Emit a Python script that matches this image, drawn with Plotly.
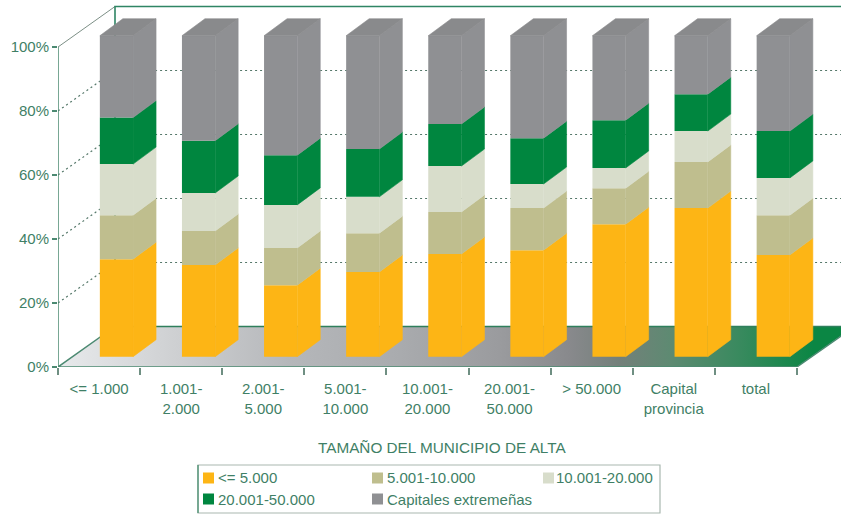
import plotly.graph_objects as go

categories = ["<= 1.000", "1.001-<br>2.000", "2.001-<br>5.000", "5.001-<br>10.000", "10.001-<br>20.000",
              "20.001-<br>50.000", "> 50.000", "Capital<br>provincia", "total"]
series_names = ["<= 5.000", "5.001-10.000", "10.001-20.000", "20.001-50.000", "Capitales extremeñas"]
s_le5000 = [30.4, 28.6, 22.3, 26.4, 32.0, 33.2, 41.3, 46.3, 31.7]
s_5_10 = [13.7, 10.6, 11.6, 12.1, 13.1, 13.1, 11.2, 14.4, 12.4]
s_10_20 = [15.9, 11.8, 13.4, 11.3, 14.3, 7.5, 6.3, 9.6, 11.6]
s_20_50 = [14.5, 16.3, 15.5, 14.9, 13.1, 14.3, 14.9, 11.5, 14.6]
s_cap = [25.5, 32.7, 37.2, 35.3, 27.5, 31.9, 26.3, 18.2, 29.7]
series = [s_le5000, s_5_10, s_10_20, s_20_50, s_cap]
colors = ["#FDB515", "#BFBE8E", "#D8DDCB", "#00863F", "#8F9093"]
top_color = "#898A8C"
ticks_y = [0, 20, 40, 60, 80, 100]

TXT = "#3F7F66"
FONT = "Liberation Sans, Arial, sans-serif"

# 3-D projection of the chart box, in axis units
W, H = 841, 515
ML, MB = 58, 148
PX_X, PX_Y = 82.1, 3.2
XR = [-0.5, -0.5 + (W - ML) / PX_X]
YR = [0, (H - MB) / PX_Y]
WALL_DX, WALL_DY = 57 / PX_X, 40.5 / PX_Y
BAR_DX, BAR_DY = 23 / PX_X, 17 / PX_Y
BAR_W, BAR_SHIFT, BAR_BASE = 33.2 / PX_X, 17.4 / PX_X, 10.3 / PX_Y
BAR_SCALE = 1.003

x0, x1 = -0.5, 8.5
fig = go.Figure()

# floor
fig.add_trace(go.Scatter(
    x=[x0, x1, x1 + WALL_DX, x0 + WALL_DX, x0], y=[0, 0, WALL_DY, WALL_DY, 0],
    mode="none", fill="toself", showlegend=False, hoverinfo="skip",
    fillgradient=dict(type="horizontal", start=x0, stop=x1 + 0.2,
                      colorscale=[[0, "#E8EAEC"], [0.15, "#CFD1D3"], [0.307, "#B5B7BA"], [0.453, "#A9ABAE"],
                                  [0.585, "#9A9B9E"], [0.678, "#88898C"], [0.744, "#73807A"], [0.81, "#5E8A72"],
                                  [0.9, "#3A8A5F"], [1, "#0B8644"]])))
# dotted grid: side wall and back wall
gx, gy = [], []
for v in ticks_y[1:-1]:
    gx += [x0, x0 + WALL_DX, XR[1], None]
    gy += [v, v + WALL_DY, v + WALL_DY, None]
fig.add_trace(go.Scatter(x=gx, y=gy, mode="lines", showlegend=False, hoverinfo="skip",
                         line=dict(color="#55786A", width=1.2, dash="2px,3px")))
# frame lines
fig.add_trace(go.Scatter(x=[x0, x0 + WALL_DX], y=[100, 100 + WALL_DY], mode="lines", showlegend=False,
                         hoverinfo="skip", line=dict(color="#7C8F86", width=1)))
fig.add_trace(go.Scatter(x=[x0 + WALL_DX, x0 + WALL_DX, XR[1]], y=[WALL_DY, 100 + WALL_DY, 100 + WALL_DY],
                         mode="lines", showlegend=False, hoverinfo="skip",
                         line=dict(color="#2F8564", width=1.6)))
fig.add_trace(go.Scatter(x=[x0 + WALL_DX, x0, x0, x0, x1, x1 + WALL_DX + 0.01],
                         y=[WALL_DY, 0, 100, 0, 0, WALL_DY], mode="lines", showlegend=False, hoverinfo="skip",
                         line=dict(color="#4C8A72", width=1.5)))
fig.add_trace(go.Scatter(x=[x0 + WALL_DX, XR[1]], y=[WALL_DY, WALL_DY], mode="lines", showlegend=False,
                         hoverinfo="skip", line=dict(color="#2F7F5C", width=1.3)))

# bars on an overlaid subplot so they cover the floor and grid
idx = list(range(len(categories)))
cum = [BAR_BASE] * len(idx)
for name, vals, col in zip(series_names, series, colors):
    scaled = [v * BAR_SCALE for v in vals]
    fig.add_trace(go.Bar(x=idx, y=scaled, base=cum, name=name, marker=dict(color=col, line=dict(width=0)),
                         width=BAR_W, offset=BAR_SHIFT - BAR_W / 2, xaxis="x2", yaxis="y2", showlegend=False))
    sx, sy = [], []
    for i, v, b in zip(idx, scaled, cum):
        r = i + BAR_SHIFT + BAR_W / 2
        sx += [r, r + BAR_DX, r + BAR_DX, r, r, None]
        sy += [b, b + BAR_DY, b + v + BAR_DY, b + v, b, None]
    fig.add_trace(go.Scatter(x=sx, y=sy, mode="lines", fill="toself", fillcolor=col, showlegend=False,
                             hoverinfo="skip", line=dict(width=0.6, color=col), xaxis="x2", yaxis="y2"))
    cum = [b + v for b, v in zip(cum, scaled)]
tx, ty = [], []
for i, t in zip(idx, cum):
    l = i + BAR_SHIFT - BAR_W / 2
    r = l + BAR_W
    tx += [l, l + BAR_DX, r + BAR_DX, r, l, None]
    ty += [t, t + BAR_DY, t + BAR_DY, t, t, None]
fig.add_trace(go.Scatter(x=tx, y=ty, mode="lines", fill="toself", fillcolor=top_color, showlegend=False,
                         hoverinfo="skip", line=dict(width=0.6, color=top_color), xaxis="x2", yaxis="y2"))

# legend laid out as in the reference: page pixels converted to paper fractions
def paper_x(v):
    return (v - ML) / (W - ML)
def paper_y(v):
    return (H - MB - v) / (H - MB)

legend_slots = [(203, 217, 478), (372, 386, 478), (543, 555, 478), (203, 217, 499), (372, 386, 499)]
shapes = [dict(type="rect", xref="paper", yref="paper", x0=paper_x(198), x1=paper_x(660),
               y0=paper_y(465), y1=paper_y(513), line=dict(color="#A9B8B0", width=1.2),
               fillcolor="white", layer="above"),
          dict(type="line", xref="paper", yref="paper", x0=paper_x(198), x1=paper_x(198),
               y0=paper_y(465), y1=paper_y(513), line=dict(color="#3F8A6A", width=1.2), layer="above")]
annotations = [dict(text="TAMAÑO DEL MUNICIPIO DE ALTA", xref="x", yref="paper", x=(442 - ML) / PX_X - 0.5,
                    y=paper_y(447), yanchor="middle", showarrow=False, font=dict(size=15.3, color=TXT))]
for (sw, tx_, cy), name, col in zip(legend_slots, series_names, colors):
    shapes.append(dict(type="rect", xref="paper", yref="paper",
                       x0=paper_x(sw), x1=paper_x(sw + 11), y0=paper_y(cy + 5.5), y1=paper_y(cy - 5.5),
                       line=dict(width=0), fillcolor=col, layer="above"))
    annotations.append(dict(text=name, xref="paper", yref="paper", x=paper_x(tx_), y=paper_y(cy),
                            xanchor="left", yanchor="middle", showarrow=False, xshift=-1,
                            font=dict(size=15, color=TXT)))

fig.update_layout(
    width=W, height=H, margin=dict(l=ML, r=0, t=0, b=MB), autosize=False,
    paper_bgcolor="white", plot_bgcolor="white", barmode="overlay", showlegend=False,
    font=dict(family=FONT, color=TXT, size=15),
    xaxis=dict(range=XR, tickmode="array", tickvals=idx, ticktext=categories, showgrid=False, zeroline=False,
               ticks="", showline=False, tickfont=dict(size=15, color=TXT), ticklabelstandoff=11,
               minor=dict(tickmode="array", tickvals=[i - 0.5 for i in range(10)], ticks="outside",
                          ticklen=7, tickwidth=1.5, tickcolor="#6F8F82", showgrid=False)),
    yaxis=dict(range=YR, tickmode="array", tickvals=ticks_y, ticktext=[f"{v}%" for v in ticks_y],
               showgrid=False, zeroline=False, showline=False, ticks="outside", ticklen=5, tickwidth=1.5,
               tickcolor="#4C8A72", tickfont=dict(size=15, color=TXT)),
    xaxis2=dict(range=XR, overlaying="x", visible=False),
    yaxis2=dict(range=YR, overlaying="y", visible=False),
    shapes=shapes, annotations=annotations,
)
fig.write_html("out.html", config={"displayModeBar": False}, post_script="document.body.style.margin='0';")
